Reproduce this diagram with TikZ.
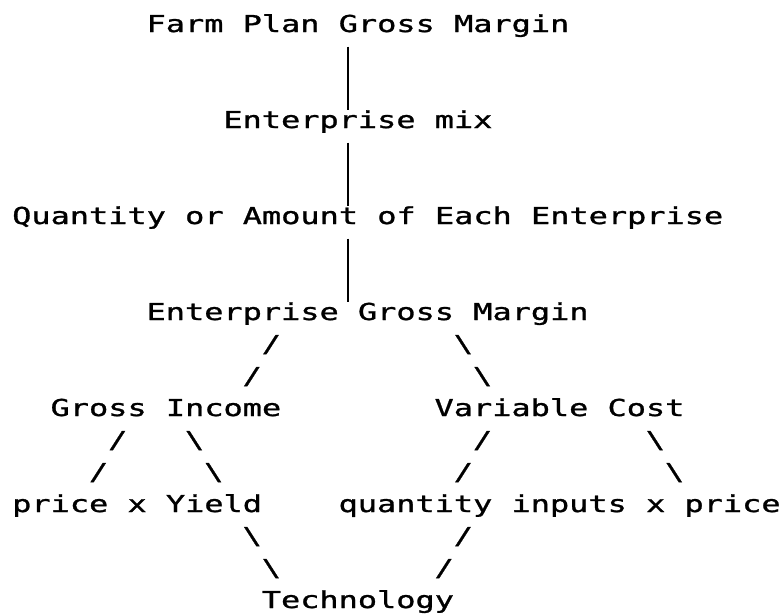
\documentclass[tikz,border=0pt]{standalone}
\usepackage{fontspec}
\newfontfamily\plotfont[FakeStretch=1.37,FakeBold=1.2]{DejaVu Sans Mono}
\usepackage{tikz}
\usetikzlibrary{positioning}

\begin{document}
\begin{tikzpicture}[x=1pt,y=-1pt,
  txt/.style={anchor=base west,inner sep=0pt,text height=17pt,text depth=5pt,
    font=\plotfont\fontsize{23.3pt}{28pt}\selectfont},
  bar/.style={line width=1.4pt,shorten <=9.5pt,shorten >=1pt}]
 \useasboundingbox (0,0) rectangle (781,614);
 % text lines, column c at 12+19.2c, line k at 32+32k
 \node[txt] (farm) at (146.4,32) {Farm Plan Gross Margin};
 \node[txt] (mix) at (223.2,128) {Enterprise mix};
 \node[txt] (qty) at (12,224) {Quantity or Amount of Each Enterprise};
 \node[txt] (egm) at (146.4,320) {Enterprise Gross Margin};
 \node[txt] (inc) at (50.4,416) {Gross Income};
 \node[txt] (cost) at (434.4,416) {Variable Cost};
 \node[txt] (yield) at (12,512) {price x Yield};
 \node[txt] (inputs) at (338.4,512) {quantity inputs x price};
 \node[txt] (tech) at (261.6,608) {Technology};
 % typed branches
 \foreach \c/\r in {13/10,12/11,5/13,4/14,24/13,23/14,23/16,22/17}
   \node[txt] (fw-\c-\r) at ({12+19.2*\c},{32+32*\r}) {/};
 \foreach \c/\r in {23/10,24/11,9/13,10/14,33/13,34/14,12/16,13/17}
   \node[txt] (bk-\c-\r) at ({12+19.2*\c},{32+32*\r}) {\textbackslash};
 % stem
 \coordinate (stem) at (348,0);
 \draw[bar] (stem |- farm.south) -- (stem |- mix.north);
 \draw[bar] (stem |- mix.south) -- (stem |- qty.north);
 \draw[bar] (stem |- qty.south) -- (stem |- egm.north);
\end{tikzpicture}
\end{document}
